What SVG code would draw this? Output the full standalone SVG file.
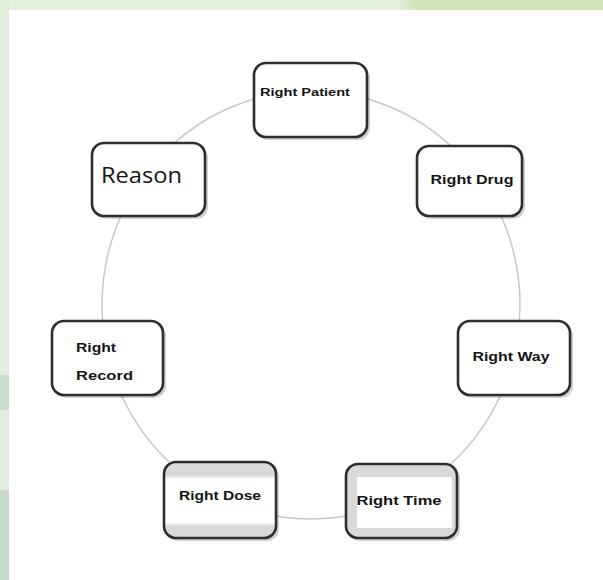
<svg xmlns="http://www.w3.org/2000/svg" width="603" height="580" viewBox="0 0 603 580">
<defs>
<style>
.box{fill:#fff;stroke:#2e2e2e;stroke-width:2.6}
.sh{fill:#000;opacity:0.18}
.t{font-family:"Liberation Sans",Arial,sans-serif;font-weight:bold;fill:#151515}
.conn{fill:none;stroke:#c8c8c8;stroke-width:1.5}
</style>
<linearGradient id="topg" x1="0" x2="1" y1="0" y2="0">
<stop offset="0" stop-color="#e5efdd"/>
<stop offset="0.66" stop-color="#e5efdd"/>
<stop offset="0.69" stop-color="#d3e5b8"/>
<stop offset="1" stop-color="#d3e5b8"/>
</linearGradient>
<linearGradient id="doseg" x1="0" x2="0" y1="0" y2="1">
<stop offset="0" stop-color="#d9d9d9"/>
<stop offset="0.18" stop-color="#d9d9d9"/>
<stop offset="0.22" stop-color="#fff"/>
<stop offset="0.8" stop-color="#fff"/>
<stop offset="0.84" stop-color="#d9d9d9"/>
<stop offset="1" stop-color="#d9d9d9"/>
</linearGradient>
</defs>
<rect width="603" height="580" fill="#fff"/>
<rect x="0" y="0" width="603" height="10" fill="url(#topg)"/>
<rect x="0" y="0" width="9" height="580" fill="#e3eddc"/>
<rect x="0" y="375" width="9" height="35" fill="#cadccf"/>
<rect x="0" y="490" width="9" height="90" fill="#c7dacc"/>
<g id="connectors">
<ellipse class="conn" cx="311" cy="305" rx="209" ry="214"/>
</g>
<g id="right-patient">
<rect class="sh" x="257" y="66" width="113" height="74" rx="12"/>
<rect class="box" x="254" y="63" width="113" height="74" rx="12"/>
<text class="t" x="305" y="96" font-size="11" text-anchor="middle" textLength="90" lengthAdjust="spacingAndGlyphs">Right Patient</text>
</g>
<g id="reason">
<rect class="sh" x="95" y="146" width="113" height="73" rx="12"/>
<rect class="box" x="92" y="143" width="113" height="73" rx="12"/>
<text x="101" y="183" font-size="21" font-family="'Open Sans','DejaVu Sans',sans-serif" fill="#151515" textLength="81" lengthAdjust="spacingAndGlyphs">Reason</text>
</g>
<g id="right-drug">
<rect class="sh" x="420" y="149" width="105" height="70" rx="12"/>
<rect class="box" x="417" y="146" width="105" height="70" rx="12"/>
<text class="t" x="472" y="184" font-size="13" text-anchor="middle" textLength="83" lengthAdjust="spacingAndGlyphs">Right Drug</text>
</g>
<g id="right-record">
<rect class="sh" x="55" y="324" width="111" height="74" rx="12"/>
<rect class="box" x="52" y="321" width="111" height="74" rx="12"/>
<text class="t" x="76" y="352" font-size="13" textLength="40" lengthAdjust="spacingAndGlyphs">Right</text>
<text class="t" x="76" y="380" font-size="13" textLength="57" lengthAdjust="spacingAndGlyphs">Record</text>
</g>
<g id="right-way">
<rect class="sh" x="461" y="324" width="112" height="74" rx="12"/>
<rect class="box" x="458" y="321" width="112" height="74" rx="12"/>
<text class="t" x="511" y="361" font-size="13" text-anchor="middle" textLength="77" lengthAdjust="spacingAndGlyphs">Right Way</text>
</g>
<g id="right-dose">
<rect class="sh" x="167" y="465" width="112" height="76" rx="12"/>
<rect class="box" x="164" y="462" width="112" height="76" rx="12" fill="url(#doseg)" style="fill:url(#doseg)"/>
<text class="t" x="220" y="500" font-size="13" text-anchor="middle" textLength="82" lengthAdjust="spacingAndGlyphs">Right Dose</text>
</g>
<g id="right-time">
<rect class="sh" x="349" y="467" width="111" height="74" rx="12"/>
<rect class="box" x="346" y="464" width="111" height="74" rx="12" style="fill:#d9d9d9"/>
<rect x="357" y="477" width="95" height="51" fill="#fff"/>
<text class="t" x="399" y="505" font-size="13" text-anchor="middle" textLength="85" lengthAdjust="spacingAndGlyphs">Right Time</text>
</g>
</svg>
